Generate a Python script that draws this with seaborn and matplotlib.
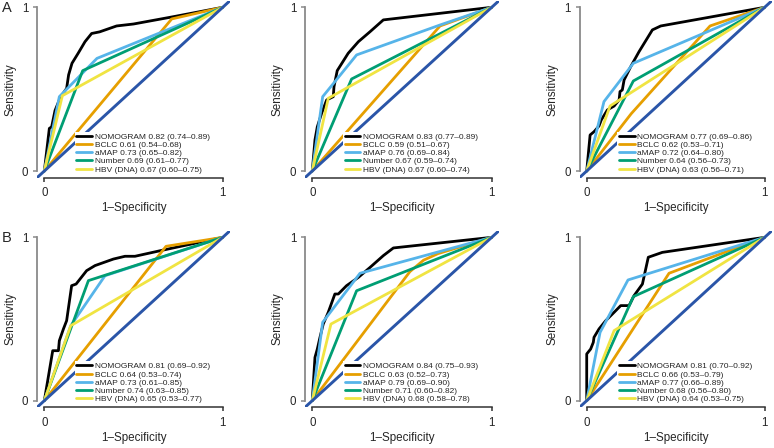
import matplotlib
matplotlib.use("Agg")
import matplotlib.pyplot as plt
import pandas as pd
import seaborn as sns

MODELS = ["NOMOGRAM", "BCLC", "aMAP", "Number", "HBV (DNA)"]
COLORS = ["#000000", "#E69F00", "#56B4E9", "#009E73", "#F0E442"]
DIAG_COLOR = "#2A55A8"

# ---------------- Panel A, left ----------------
A1_fpr = {
    "NOMOGRAM": [0, 0.028, 0.041, 0.06, 0.09, 0.125, 0.136, 0.155, 0.19, 0.228, 0.265, 0.31, 0.405, 0.5, 0.725, 1],
    "BCLC": [0, 0.714, 1],
    "aMAP": [0, 0.084, 0.295, 1],
    "Number": [0, 0.215, 1],
    "HBV (DNA)": [0, 0.101, 1],
}
A1_tpr = {
    "NOMOGRAM": [0, 0.26, 0.27, 0.37, 0.45, 0.505, 0.587, 0.658, 0.72, 0.79, 0.84, 0.85, 0.886, 0.898, 0.943, 1],
    "BCLC": [0, 0.929, 1],
    "aMAP": [0, 0.454, 0.688, 1],
    "Number": [0, 0.613, 1],
    "HBV (DNA)": [0, 0.46, 1],
}
A1_auc = ["0.82 (0.74–0.89)", "0.61 (0.54–0.68)", "0.73 (0.65–0.82)", "0.69 (0.61–0.77)", "0.67 (0.60–0.75)"]

# ---------------- Panel A, middle ----------------
A2_fpr = {
    "NOMOGRAM": [0, 0.015, 0.028, 0.052, 0.08, 0.117, 0.121, 0.139, 0.2, 0.257, 0.322, 0.396, 1],
    "BCLC": [0, 0.712, 1],
    "aMAP": [0, 0.058, 0.247, 0.712, 1],
    "Number": [0, 0.219, 1],
    "HBV (DNA)": [0, 0.089, 1],
}
A2_tpr = {
    "NOMOGRAM": [0, 0.19, 0.27, 0.352, 0.434, 0.454, 0.515, 0.613, 0.719, 0.79, 0.851, 0.923, 1],
    "BCLC": [0, 0.886, 1],
    "aMAP": [0, 0.454, 0.709, 0.892, 1],
    "Number": [0, 0.562, 1],
    "HBV (DNA)": [0, 0.444, 1],
}
A2_auc = ["0.83 (0.77–0.89)", "0.59 (0.51–0.67)", "0.76 (0.69–0.84)", "0.67 (0.59–0.74)", "0.67 (0.60–0.74)"]

# ---------------- Panel A, right ----------------
A3_fpr = {
    "NOMOGRAM": [0, 0.019, 0.041, 0.069, 0.082, 0.116, 0.154, 0.182, 0.187, 0.2, 0.21, 0.247, 0.294, 0.369, 0.416, 1],
    "BCLC": [0, 0.25, 0.693, 1],
    "aMAP": [0, 0.097, 0.262, 1],
    "Number": [0, 0.262, 1],
    "HBV (DNA)": [0, 0.131, 1],
}
A3_tpr = {
    "NOMOGRAM": [0, 0.22, 0.24, 0.275, 0.312, 0.373, 0.397, 0.434, 0.485, 0.495, 0.556, 0.637, 0.729, 0.862, 0.886, 1],
    "BCLC": [0, 0.35, 0.886, 1],
    "aMAP": [0, 0.424, 0.658, 1],
    "Number": [0, 0.55, 1],
    "HBV (DNA)": [0, 0.397, 1],
}
A3_auc = ["0.77 (0.69–0.86)", "0.62 (0.53–0.71)", "0.72 (0.64–0.80)", "0.64 (0.56–0.73)", "0.63 (0.56–0.71)"]

# ---------------- Panel B, left ----------------
B1_fpr = {
    "NOMOGRAM": [0, 0.047, 0.079, 0.084, 0.107, 0.125, 0.153, 0.178, 0.237, 0.284, 0.387, 0.452, 0.508, 0.649, 1],
    "BCLC": [0, 0.682, 1],
    "aMAP": [0, 0.148, 0.34, 1],
    "Number": [0, 0.247, 1],
    "HBV (DNA)": [0, 0.148, 1],
}
B1_tpr = {
    "NOMOGRAM": [0, 0.306, 0.306, 0.367, 0.439, 0.49, 0.704, 0.714, 0.796, 0.827, 0.867, 0.884, 0.884, 0.918, 1],
    "BCLC": [0, 0.945, 1],
    "aMAP": [0, 0.459, 0.765, 1],
    "Number": [0, 0.735, 1],
    "HBV (DNA)": [0, 0.459, 1],
}
B1_auc = ["0.81 (0.69–0.92)", "0.64 (0.53–0.74)", "0.73 (0.61–0.85)", "0.74 (0.63–0.85)", "0.65 (0.53–0.77)"]

# ---------------- Panel B, middle ----------------
B2_fpr = {
    "NOMOGRAM": [0, 0.015, 0.028, 0.043, 0.061, 0.089, 0.126, 0.145, 0.191, 0.257, 0.322, 0.396, 0.452, 1],
    "BCLC": [0, 0.544, 0.62, 0.7, 1],
    "aMAP": [0, 0.058, 0.266, 1],
    "Number": [0, 0.247, 1],
    "HBV (DNA)": [0, 0.104, 1],
}
B2_tpr = {
    "NOMOGRAM": [0, 0.265, 0.316, 0.388, 0.469, 0.541, 0.653, 0.653, 0.704, 0.755, 0.816, 0.888, 0.935, 1],
    "BCLC": [0, 0.79, 0.86, 0.9, 1],
    "aMAP": [0, 0.48, 0.78, 1],
    "Number": [0, 0.673, 1],
    "HBV (DNA)": [0, 0.469, 1],
}
B2_auc = ["0.84 (0.75–0.93)", "0.63 (0.52–0.73)", "0.79 (0.69–0.90)", "0.71 (0.60–0.82)", "0.68 (0.58–0.78)"]

# ---------------- Panel B, right ----------------
B3_fpr = {
    "NOMOGRAM": [0, 0, 0.022, 0.037, 0.041, 0.069, 0.107, 0.154, 0.191, 0.238, 0.266, 0.313, 0.346, 0.425, 1],
    "BCLC": [0, 0.4625, 1],
    "aMAP": [0, 0.075, 0.232, 1],
    "Number": [0, 0.262, 1],
    "HBV (DNA)": [0, 0.154, 1],
}
B3_tpr = {
    "NOMOGRAM": [0, 0.286, 0.316, 0.357, 0.388, 0.439, 0.49, 0.541, 0.582, 0.582, 0.643, 0.714, 0.878, 0.908, 1],
    "BCLC": [0, 0.78, 1],
    "aMAP": [0, 0.418, 0.739, 1],
    "Number": [0, 0.637, 1],
    "HBV (DNA)": [0, 0.429, 1],
}
B3_auc = ["0.81 (0.70–0.92)", "0.66 (0.53–0.79)", "0.77 (0.66–0.89)", "0.68 (0.56–0.80)", "0.64 (0.53–0.75)"]

PANELS = [
    [(A1_fpr, A1_tpr, A1_auc), (A2_fpr, A2_tpr, A2_auc), (A3_fpr, A3_tpr, A3_auc)],
    [(B1_fpr, B1_tpr, B1_auc), (B2_fpr, B2_tpr, B2_auc), (B3_fpr, B3_tpr, B3_auc)],
]
ROW_LETTERS = ["A", "B"]

sns.set_style("white")
plt.rcParams["font.family"] = ["Liberation Sans", "DejaVu Sans"]

W, H = 774, 448
fig = plt.figure(figsize=(W / 100, H / 100), dpi=100)

# axes boxes in pixels: (left, width) per column, (top, height) per row
COLS_PX = [(37.2, 192.7), (305.1, 193.8), (579.6, 192.2)]
ROWS_PX = [(0.75, 176.8), (230.8, 176.4)]

for r, row in enumerate(PANELS):
    top, hgt = ROWS_PX[r]
    for c, (fpr, tpr, auc) in enumerate(row):
        left, wid = COLS_PX[c]
        ax = fig.add_axes([left / W, 1 - (top + hgt) / H, wid / W, hgt / H])
        frames = []
        for m in MODELS:
            frames.append(pd.DataFrame({"model": m, "fpr": fpr[m], "tpr": tpr[m]}))
        df = pd.concat(frames, ignore_index=True)
        sns.lineplot(data=df, x="fpr", y="tpr", hue="model", hue_order=MODELS,
                     palette=COLORS, sort=False, estimator=None,
                     linewidth=2.0, legend=False, ax=ax)
        ax.axline((0, 0), (1, 1), color=DIAG_COLOR, linewidth=2.1, zorder=3)
        ax.set_xlim(-0.04, 1.04)
        ax.set_ylim(-0.04, 1.04)
        ax.set_xticks([0, 1])
        ax.set_yticks([0, 1])
        ax.set_xticklabels(["0", "1"])
        ax.set_yticklabels(["0", "1"])
        for s in ["top", "right"]:
            ax.spines[s].set_visible(False)
        ax.spines["left"].set_bounds(0, 1)
        ax.spines["bottom"].set_bounds(0, 1)
        ax.spines["left"].set_color("#8a8a8a")
        ax.spines["bottom"].set_color("#333333")
        ax.spines["left"].set_linewidth(1.3)
        ax.spines["bottom"].set_linewidth(1.1)
        ax.tick_params(axis="y", direction="out", length=3, width=1.1, color="#8a8a8a",
                       labelsize=8.3, pad=3.5, left=True)
        ax.tick_params(axis="x", direction="out", length=3, width=1.1, color="#333333",
                       labelsize=8.3, pad=4, bottom=True)
        ax.set_xlabel("1–Specificity", fontsize=8.4)
        ax.set_ylabel("Sensitivity", fontsize=8.4)
        ax.xaxis.set_label_coords(0.5, -0.14)
        ax.yaxis.set_label_coords(-0.11, 0.5)
        handles = ax.get_lines()[:5]
        labels = [f"{m} {a}" for m, a in zip(MODELS, auc)]
        leg = ax.legend(handles, labels, loc="lower left", bbox_to_anchor=(0.197, 0.015),
                        bbox_transform=ax.transAxes, frameon=True, fancybox=False,
                        edgecolor="none", facecolor="white", framealpha=1, fontsize=6.0,
                        handlelength=1.9, handletextpad=0.3, borderpad=0.15,
                        labelspacing=0.05, borderaxespad=0)
        leg.set_zorder(10)
        if c == 0:
            fig.text(1.5 / W, 1 - (top + 7.5) / H, ROW_LETTERS[r], fontsize=10.5,
                     ha="left", va="center")

fig.savefig("out.png", dpi=100)
